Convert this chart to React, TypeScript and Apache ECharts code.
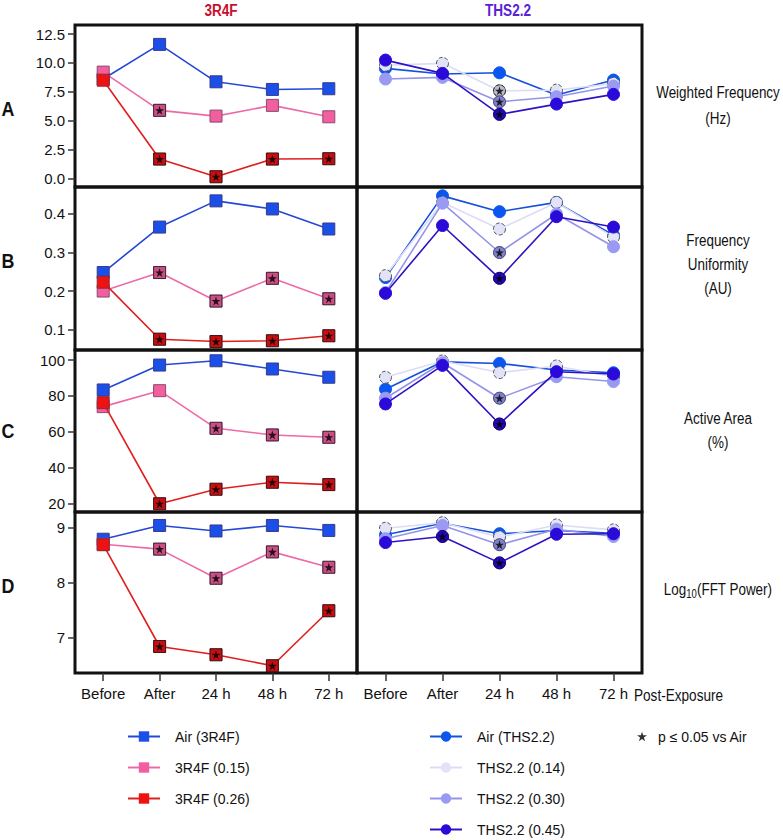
import React, { useEffect, useRef } from 'react';
import * as echarts from 'echarts';

// ---------- data ----------
const categories = ['Before', 'After', '24 h', '48 h', '72 h'];

// A: Weighted Frequency (Hz)
const wfAir3R4F = [8.6, 11.6, 8.36, 7.7, 7.76];
const wf3R4F015 = [9.2, 5.89, 5.39, 6.32, 5.33];
const wf3R4F026 = [8.5, 1.67, 0.14, 1.67, 1.7];
const wfAirTHS = [9.52, 9.03, 9.14, 7.21, 8.51];
const wfTHS014 = [9.8, 9.96, 7.58, 7.64, 8.22];
const wfTHS030 = [8.6, 8.74, 6.63, 7.07, 7.99];
const wfTHS045 = [10.24, 9.09, 5.54, 6.43, 7.27];

// B: Frequency Uniformity (AU)
const fuAir3R4F = [0.248, 0.366, 0.434, 0.413, 0.361];
const fu3R4F015 = [0.2, 0.248, 0.174, 0.233, 0.18];
const fu3R4F026 = [0.223, 0.075, 0.069, 0.071, 0.084];
const fuAirTHS = [0.235, 0.447, 0.406, 0.43, 0.345];
const fuTHS014 = [0.24, 0.43, 0.361, 0.43, 0.34];
const fuTHS030 = [0.196, 0.428, 0.3, 0.4, 0.315];
const fuTHS045 = [0.194, 0.37, 0.233, 0.393, 0.366];

// C: Active Area (%)
const aaAir3R4F = [83.3, 97.2, 99.6, 95, 90.4];
const aa3R4F015 = [74, 82.9, 61.9, 58.2, 56.9];
const aa3R4F026 = [76.2, 19.8, 27.9, 31.8, 30.5];
const aaAirTHS = [83.7, 99, 98.1, 94.4, 92.9];
const aaTHS014 = [90.4, 99.5, 93, 96.7, 90.7];
const aaTHS030 = [78.7, 98.5, 78.7, 90.7, 88];
const aaTHS045 = [75.5, 97, 64.3, 93.5, 92.2];

// D: Log10(FFT Power)
const fpAir3R4F = [8.79, 9.04, 8.94, 9.04, 8.95];
const fp3R4F015 = [8.7, 8.61, 8.08, 8.56, 8.28];
const fp3R4F026 = [8.69, 6.84, 6.69, 6.49, 7.49];
const fpAirTHS = [8.87, 9.08, 8.89, 8.95, 8.9];
const fpTHS014 = [8.99, 9.09, 8.83, 9.05, 8.96];
const fpTHS030 = [8.8, 9.04, 8.69, 8.97, 8.84];
const fpTHS045 = [8.73, 8.84, 8.36, 8.88, 8.89];

// significance (p <= 0.05 vs Air), 1 = significant
const sigNone = [0, 0, 0, 0, 0];
const sigA3R4F015 = [0, 1, 0, 0, 0];
const sigA3R4F026 = [0, 1, 1, 1, 1];
const sigATHS014 = [0, 0, 1, 0, 0];
const sigATHS030 = [0, 0, 1, 0, 0];
const sigATHS045 = [0, 0, 1, 0, 0];
const sigB3R4F015 = [0, 1, 1, 1, 1];
const sigB3R4F026 = [0, 1, 1, 1, 1];
const sigBTHS030 = [0, 0, 1, 0, 0];
const sigBTHS045 = [0, 0, 1, 0, 0];
const sigC3R4F015 = [0, 0, 1, 1, 1];
const sigC3R4F026 = [0, 1, 1, 1, 1];
const sigCTHS030 = [0, 0, 1, 0, 0];
const sigCTHS045 = [0, 0, 1, 0, 0];
const sigD3R4F015 = [0, 1, 1, 1, 1];
const sigD3R4F026 = [0, 1, 1, 1, 1];
const sigDTHS030 = [0, 0, 1, 0, 0];
const sigDTHS045 = [0, 1, 1, 0, 0];

// tick labels
const ticksA = [0, 2.5, 5, 7.5, 10, 12.5];
const ticksB = [0.1, 0.2, 0.3, 0.4];
const ticksC = [20, 40, 60, 80, 100];
const ticksD = [7, 8, 9];

const rowTitles = ['Weighted Frequency\n(Hz)', 'Frequency\nUniformity\n(AU)', 'Active Area\n(%)'];
const rowLetters = ['A', 'B', 'C', 'D'];
const sigLabel = 'p ≤ 0.05 vs Air';

// ---------- styles ----------
const FONT = "'Liberation Sans', Arial, sans-serif";
const STAR = 'path://M50,0L61.2,34.5L97.6,34.5L68.2,55.9L79.4,90.5L50,69.1L20.6,90.5L31.8,55.9L2.4,34.5L38.8,34.5Z';
const NARROW = 0.8;

const defs3R4F = [
  { name: 'Air (3R4F)', fill: '#1a4fe8', line: '#2548d6', border: '#3a3a8a', symbol: 'rect', dashed: false },
  { name: '3R4F (0.15)', fill: '#f25f9f', line: '#ee6aa6', border: '#8a4a70', symbol: 'rect', dashed: false },
  { name: '3R4F (0.26)', fill: '#ee1212', line: '#e01e1e', border: '#8a2a3a', symbol: 'rect', dashed: false },
];
const defsTHS = [
  { name: 'Air (THS2.2)', fill: '#0b56ee', line: '#1550dc', border: '#0b56ee', symbol: 'circle', dashed: false },
  { name: 'THS2.2 (0.14)', fill: '#e2e2f8', line: '#dcdcf6', border: '#555555', symbol: 'circle', dashed: true },
  { name: 'THS2.2 (0.30)', fill: '#9a9af2', line: '#9494ea', border: '#9a9af2', symbol: 'circle', dashed: false },
  { name: 'THS2.2 (0.45)', fill: '#2a0ad8', line: '#2e12c4', border: '#2a0ad8', symbol: 'circle', dashed: false },
];

const rowsData = [
  { left: [wfAir3R4F, wf3R4F015, wf3R4F026], right: [wfAirTHS, wfTHS014, wfTHS030, wfTHS045],
    sigL: [sigNone, sigA3R4F015, sigA3R4F026], sigR: [sigNone, sigATHS014, sigATHS030, sigATHS045],
    ticks: ticksA, digits: 1 },
  { left: [fuAir3R4F, fu3R4F015, fu3R4F026], right: [fuAirTHS, fuTHS014, fuTHS030, fuTHS045],
    sigL: [sigNone, sigB3R4F015, sigB3R4F026], sigR: [sigNone, sigNone, sigBTHS030, sigBTHS045],
    ticks: ticksB, digits: 1 },
  { left: [aaAir3R4F, aa3R4F015, aa3R4F026], right: [aaAirTHS, aaTHS014, aaTHS030, aaTHS045],
    sigL: [sigNone, sigC3R4F015, sigC3R4F026], sigR: [sigNone, sigNone, sigCTHS030, sigCTHS045],
    ticks: ticksC, digits: 0 },
  { left: [fpAir3R4F, fp3R4F015, fp3R4F026], right: [fpAirTHS, fpTHS014, fpTHS030, fpTHS045],
    sigL: [sigNone, sigD3R4F015, sigD3R4F026], sigR: [sigNone, sigNone, sigDTHS030, sigDTHS045],
    ticks: ticksD, digits: 0 },
];

// layout
const rowTops = [25, 187, 350, 512];
const rowHeights = [162, 163, 162, 161];
const yRanges = [[-0.75, 13.28], [0.047, 0.47], [15.2, 105.6], [6.358, 9.285]];
const colLeft = [75, 357];
const colWidth = [282, 285];

function buildOption() {
  const grid: any[] = [];
  const xAxis: any[] = [];
  const yAxis: any[] = [];
  const series: any[] = [];

  rowsData.forEach((row, r) => {
    [0, 1].forEach((side) => {
      const gi = r * 2 + side;
      grid.push({
        left: colLeft[side], top: rowTops[r], width: colWidth[side], height: rowHeights[r],
        show: true, borderColor: '#111', borderWidth: 3, backgroundColor: 'transparent',
      });
      const isBottom = r === 3;
      xAxis.push({
        type: 'category', gridIndex: gi, data: categories, boundaryGap: true,
        axisLine: { show: false },
        axisTick: { show: isBottom, alignWithLabel: true, interval: 0, length: 8, lineStyle: { color: '#333', width: 1.5 } },
        axisLabel: { show: isBottom, interval: 0, margin: 13, fontFamily: FONT, fontSize: 15, color: '#111' },
        splitLine: { show: false },
      });
      const ticks = row.ticks;
      yAxis.push({
        type: 'value', gridIndex: gi, min: yRanges[r][0], max: yRanges[r][1],
        axisLine: { show: false },
        splitLine: { show: false },
        axisTick: { show: side === 0, length: 7, lineStyle: { color: '#333', width: 1.5 }, customValues: ticks },
        axisLabel: {
          show: side === 0, customValues: ticks, margin: 10, fontFamily: FONT, fontSize: 15, color: '#111',
          formatter: (v: number) => v.toFixed(row.digits),
        },
      });
      const defs = side === 0 ? defs3R4F : defsTHS;
      const vals = side === 0 ? row.left : row.right;
      const sigs = side === 0 ? row.sigL : row.sigR;
      defs.forEach((d, k) => {
        series.push({
          type: 'line', name: d.name, xAxisIndex: gi, yAxisIndex: gi, data: vals[k],
          symbol: d.symbol, symbolSize: 12, showSymbol: true, silent: true,
          lineStyle: { color: d.line, width: 1.6 },
          itemStyle: { color: d.fill, borderColor: d.border, borderWidth: 1, borderType: d.dashed ? 'dashed' : 'solid' },
          emphasis: { disabled: true },
          z: 2 + k * 3,
        });
        const pts = vals[k].map((v, i) => (sigs[k][i] ? [i, v] : null)).filter((p) => p !== null);
        if (pts.length) {
          series.push({
            type: 'scatter', name: 'shade', xAxisIndex: gi, yAxisIndex: gi, data: pts,
            symbol: d.symbol, symbolSize: 12, silent: true,
            itemStyle: { color: 'rgba(0,0,0,0.2)', borderColor: 'rgba(0,0,0,0.6)', borderWidth: 1 },
            z: 3 + k * 3,
          });
          series.push({
            type: 'scatter', name: sigLabel, xAxisIndex: gi, yAxisIndex: gi, data: pts,
            symbol: STAR, symbolSize: 9, silent: true,
            itemStyle: { color: '#000' },
            z: 4 + k * 3,
          });
        }
      });
    });
  });

  const legendBase = {
    orient: 'vertical', top: 728, padding: 0, itemWidth: 32, itemHeight: 13, itemGap: 14,
    itemStyle: { borderWidth: 0 },
    textStyle: { fontFamily: FONT, fontSize: 14, lineHeight: 17, color: '#111', padding: [0, 0, 0, 10] },
    selectedMode: false,
  };

  const graphic: any[] = [
    { type: 'text', x: 221, y: 10, scaleX: NARROW, style: { text: '3R4F', fontFamily: FONT, fontSize: 17, fontWeight: 'bold', fill: '#c8102e', textAlign: 'center', textVerticalAlign: 'middle' } },
    { type: 'text', x: 508, y: 10, scaleX: NARROW, style: { text: 'THS2.2', fontFamily: FONT, fontSize: 17, fontWeight: 'bold', fill: '#5a22d6', textAlign: 'center', textVerticalAlign: 'middle' } },
    { type: 'text', x: 634, y: 695, scaleX: NARROW, style: { text: 'Post-Exposure', fontFamily: FONT, fontSize: 17, fill: '#111', textAlign: 'left', textVerticalAlign: 'middle' } },
  ];
  const letterY = [108, 260, 430, 585];
  rowLetters.forEach((l, i) => {
    graphic.push({ type: 'text', x: 8, y: letterY[i], scaleX: 0.85, style: { text: l, fontFamily: FONT, fontSize: 21, fontWeight: 'bold', fill: '#111', textAlign: 'center', textVerticalAlign: 'middle' } });
  });
  const titleY = [105, 264, 430];
  const titleLH = [26, 24, 24];
  rowTitles.forEach((t, i) => {
    graphic.push({ type: 'text', x: 718, y: titleY[i], scaleX: 0.79, style: { text: t, fontFamily: FONT, fontSize: 17, lineHeight: titleLH[i], fill: '#111', textAlign: 'center', textVerticalAlign: 'middle' } });
  });
  graphic.push({
    type: 'text', x: 718, y: 589, scaleX: 0.79,
    style: {
      text: '{n|Log}{s|10}{n|(FFT Power)}', textAlign: 'center', textVerticalAlign: 'middle', fill: '#111',
      rich: {
        n: { fontFamily: FONT, fontSize: 17, fill: '#111', lineHeight: 20 },
        s: { fontFamily: FONT, fontSize: 12, fill: '#111', padding: [9, 0, 0, 0], lineHeight: 20 },
      },
    },
  });

  return {
    animation: false,
    backgroundColor: '#fff',
    grid, xAxis, yAxis, series, graphic,
    legend: [
      { ...legendBase, left: 127, data: defs3R4F.map((d) => d.name) },
      { ...legendBase, left: 429, data: defsTHS.map((d) => d.name) },
      { ...legendBase, left: 637, itemWidth: 10, itemHeight: 10, textStyle: { ...legendBase.textStyle, padding: [0, 0, 0, 6] }, data: [{ name: sigLabel, icon: STAR }] },
    ],
  };
}

export default function App() {
  const ref = useRef<HTMLDivElement>(null);
  useEffect(() => {
    if (!ref.current) return;
    const chart = echarts.init(ref.current, null, { renderer: 'svg' });
    chart.setOption(buildOption() as any);
    return () => chart.dispose();
  }, []);
  return <div ref={ref} style={{ position: 'absolute', left: 0, top: 0, width: 783, height: 840 }} />;
}
